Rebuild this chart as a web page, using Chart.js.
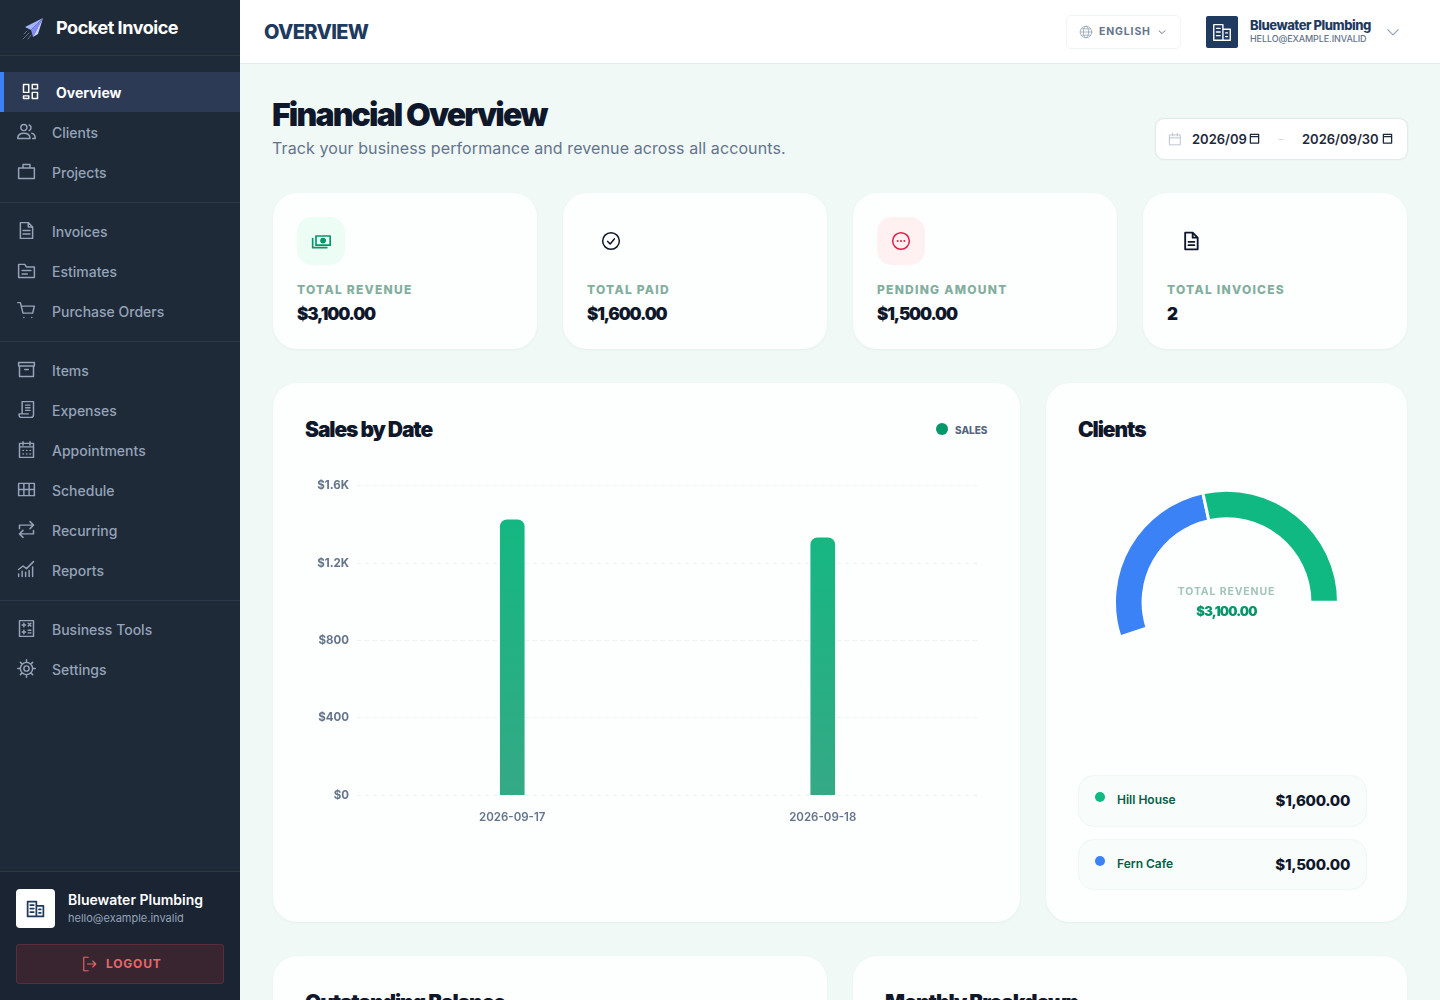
<!DOCTYPE html>
<html>
<head>
<meta charset="utf-8">
<title>Pocket Invoice</title>
<script src="https://cdn.jsdelivr.net/npm/chart.js@4/dist/chart.umd.js"></script>
<style>
* { box-sizing: border-box; margin: 0; padding: 0; }
html, body { width: 1440px; height: 1000px; overflow: hidden; background: #f0f9f6; font-family: Inter, sans-serif; }
svg { display: block; fill: none; stroke: currentColor; stroke-width: 1.5; stroke-linecap: round; stroke-linejoin: round; }
.abs { position: absolute; white-space: nowrap; }

#sidebar { position: absolute; left: 0; top: 0; width: 240px; height: 1000px; background: #1f2a38; }
#brand { position: absolute; left: 56px; top: 17px; font-size: 18px; line-height: 22px; font-weight: 700; color: #fff; letter-spacing: -0.45px; }
.sep { position: absolute; left: 0; width: 240px; height: 1px; background: #2c3849; }
.nav { position: absolute; left: 0; width: 240px; height: 40px; color: #94a3b8; font-size: 14px; font-weight: 500; line-height: 41px; }
.nav span { position: absolute; left: 52px; top: 0; }
.nav svg { position: absolute; left: 16px; top: 9px; width: 21px; height: 21px; stroke-width: 1.7; }
.nav.active { background: #2d3a55; color: #fff; font-weight: 700; border-left: 4px solid #3b82f6; }
#foot { position: absolute; left: 0; top: 871px; width: 240px; height: 129px; background: #1a2433; border-top: 1px solid #2c3849; }
#footlogo { position: absolute; left: 16px; top: 17px; width: 39px; height: 39px; background: #fff; border-radius: 4px; color: #1e3a5f; padding: 9px; }
#logout { position: absolute; left: 16px; top: 72px; width: 208px; height: 40px; background: #38252f; border: 1px solid #5a2e38; border-radius: 3px; color: #e5686c; font-size: 12px; font-weight: 700; letter-spacing: 0.8px; line-height: 38px; }

#topbar { position: absolute; left: 240px; top: 0; width: 1200px; height: 64px; background: #fff; border-bottom: 1px solid #e4ebe9; }
.card { position: absolute; background: #fdfefe; border-radius: 24px; box-shadow: 0 1px 3px rgba(20,80,60,0.05); }
.stat-label { font-size: 12px; font-weight: 800; letter-spacing: 1.25px; color: #83ae9e; }
.stat-value { font-size: 17px; font-weight: 900; letter-spacing: -1.15px; color: #0f172a; }
.title { font-size: 21px; font-weight: 900; letter-spacing: -1.1px; color: #0f172a; }
.pill { position: absolute; left: 1078px; width: 289px; background: #f8fcfb; border: 1px solid #eef8f5; border-radius: 16px; }
</style>
</head>
<body>
<div id="sidebar">
  <svg class="abs" style="left:20px;top:16px;width:25px;height:25px;stroke:none" viewBox="0 0 25 25">
    <path d="M23 2 L5 11 L11 14 Z" fill="#a5b4fc"/>
    <path d="M23 2 L11 14 L13 21 Z" fill="#818cf8"/>
    <path d="M23 2 L13 21 L18 18 Z" fill="#c7d2fe"/>
    <path d="M9 17 L3 23 M7 15 L4 18 M11 19 L8 23" stroke="#64748b" stroke-width="1" fill="none"/>
  </svg>
  <div id="brand">Pocket Invoice</div>
  <div class="sep" style="top:55px"></div>
  <div class="sep" style="top:202px"></div>
  <div class="sep" style="top:341px"></div>
  <div class="sep" style="top:600px"></div>
  <div id="nav"></div>
  <div id="foot">
    <div id="footlogo"><svg viewBox="0 0 24 24" width="21" height="21" style="stroke-width:2"><path d="M3 4h10v17H3zM13 9h8v12h-8zM6 8h4M6 12h4M6 16h4M16 13h2M16 17h2"/></svg></div>
    <div class="abs" style="left:68px;top:19px;font-size:14px;font-weight:600;color:#fff">Bluewater Plumbing</div>
    <div class="abs" style="left:68px;top:39px;font-size:11px;color:#94a3b8">hello@example.invalid</div>
    <div id="logout">
      <svg class="abs" style="left:63px;top:10px;width:18px;height:18px" viewBox="0 0 24 24"><path d="M11 3H5v18h6M10 12h11M17 8l4 4-4 4"/></svg>
      <span class="abs" style="left:89px;top:0">LOGOUT</span>
    </div>
  </div>
</div>

<div id="topbar">
  <div class="abs" style="left:24px;top:19px;font-size:20px;line-height:27px;font-weight:800;color:#1e3a5f;letter-spacing:-0.65px">OVERVIEW</div>
  <div class="abs" style="left:826px;top:15px;width:115px;height:34px;border:1px solid #f1f5f4;border-radius:5px;background:#fff"></div>
  <svg class="abs" style="left:839px;top:25px;width:14px;height:14px;color:#94a3b8;stroke-width:1.3" viewBox="0 0 24 24"><circle cx="12" cy="12" r="10"/><ellipse cx="12" cy="12" rx="4.5" ry="10"/><path d="M2 12h20M4 6.5h16M4 17.5h16"/></svg>
  <div class="abs" style="left:859px;top:25px;font-size:10.5px;line-height:14px;font-weight:700;letter-spacing:0.85px;color:#64748b">ENGLISH</div>
  <svg class="abs" style="left:917px;top:27px;width:10px;height:10px;color:#64748b;stroke-width:2.4" viewBox="0 0 24 24"><path d="M5 9l7 7 7-7"/></svg>
  <div class="abs" style="left:966px;top:16px;width:32px;height:32px;background:#1e3a5f;border-radius:2px;color:#fff;padding:5px"><svg viewBox="0 0 24 24" width="22" height="22"><path d="M3 4h10v17H3zM13 9h8v12h-8zM6 8h4M6 12h4M6 16h4M16 13h2M16 17h2"/></svg></div>
  <div class="abs" style="left:1010px;top:17px;font-size:13px;line-height:16px;font-weight:800;color:#1e3a5f;letter-spacing:-0.45px">Bluewater Plumbing</div>
  <div class="abs" style="left:1010px;top:32px;font-size:9px;line-height:13px;font-weight:500;letter-spacing:-0.1px;color:#64748b">HELLO@EXAMPLE.INVALID</div>
  <svg class="abs" style="left:1146px;top:25px;width:14px;height:14px;color:#94a3b8;stroke-width:2" viewBox="0 0 24 24"><path d="M3 8l9 9 9-9"/></svg>
</div>

<div class="abs" style="left:272px;top:95px;font-size:32px;line-height:40px;font-weight:900;letter-spacing:-1.85px;color:#0f172a">Financial Overview</div>
<div class="abs" style="left:272px;top:137px;font-size:16px;line-height:22px;letter-spacing:0.1px;color:#64748b">Track your business performance and revenue across all accounts.</div>

<div class="abs" style="left:1156px;top:119px;width:251px;height:40px;background:#fff;border-radius:8px;box-shadow:0 0 2px rgba(30,60,60,0.25)"></div>
<svg class="abs" style="left:1168px;top:132px;width:14px;height:14px;color:#b3bccb" viewBox="0 0 24 24"><path d="M3 5h18v17H3zM3 10h18M8 2v5M16 2v5"/></svg>
<div class="abs" style="left:1192px;top:131px;font-size:13px;line-height:16px;font-weight:600;color:#1e293b">2026/09</div>
<svg class="abs" style="left:1249px;top:133px;width:11px;height:11px;color:#1e293b;stroke-width:2.8" viewBox="0 0 24 24"><path d="M3 3h18v19H3zM3 8h18"/></svg>
<div class="abs" style="left:1278px;top:131px;font-size:13px;line-height:16px;color:#cbd5e1">-</div>
<div class="abs" style="left:1302px;top:131px;font-size:13px;line-height:16px;font-weight:600;color:#1e293b">2026/09/30</div>
<svg class="abs" style="left:1382px;top:133px;width:11px;height:11px;color:#1e293b;stroke-width:2.8" viewBox="0 0 24 24"><path d="M3 3h18v19H3zM3 8h18"/></svg>

<!-- stat cards -->
<div class="card" style="left:273px;top:193px;width:264px;height:156px"></div>
<div class="card" style="left:563px;top:193px;width:264px;height:156px"></div>
<div class="card" style="left:853px;top:193px;width:264px;height:156px"></div>
<div class="card" style="left:1143px;top:193px;width:264px;height:156px"></div>

<div class="abs" style="left:297px;top:217px;width:48px;height:48px;border-radius:15px;background:#ecfdf5"></div>
<svg class="abs" style="left:311px;top:231px;width:20px;height:20px;color:#059669;stroke-width:2" viewBox="0 0 24 24"><path d="M6 6h17v11H6z"/><circle cx="14.5" cy="11.5" r="2.5" fill="currentColor"/><path d="M2 9v11h17"/></svg>
<svg class="abs" style="left:601px;top:231px;width:20px;height:20px;color:#0f172a;stroke-width:1.8" viewBox="0 0 24 24"><circle cx="12" cy="12" r="10"/><path d="M8 12.5l3 3 5-6"/></svg>
<div class="abs" style="left:877px;top:217px;width:48px;height:48px;border-radius:15px;background:#fff0f2"></div>
<svg class="abs" style="left:891px;top:231px;width:20px;height:20px;color:#e11d48;stroke-width:1.8" viewBox="0 0 24 24"><circle cx="12" cy="12" r="10"/><path d="M8 12h.01M12 12h.01M16 12h.01" stroke-width="2.4"/></svg>
<svg class="abs" style="left:1181px;top:231px;width:20px;height:20px;color:#0f172a;stroke-width:2.2" viewBox="0 0 24 24"><path d="M5 2h9l6 6v14H5zM14 2v6h6M9 13h7M9 17h7"/></svg>

<div class="abs stat-label" style="left:297px;top:282px">TOTAL REVENUE</div>
<div class="abs stat-value" style="left:297px;top:304px">$3,100.00</div>
<div class="abs stat-label" style="left:587px;top:282px">TOTAL PAID</div>
<div class="abs stat-value" style="left:587px;top:304px">$1,600.00</div>
<div class="abs stat-label" style="left:877px;top:282px">PENDING AMOUNT</div>
<div class="abs stat-value" style="left:877px;top:304px">$1,500.00</div>
<div class="abs stat-label" style="left:1167px;top:282px">TOTAL INVOICES</div>
<div class="abs stat-value" style="left:1167px;top:304px">2</div>

<!-- sales card -->
<div class="card" style="left:273px;top:383px;width:747px;height:539px"></div>
<div class="abs title" style="left:305px;top:417px">Sales by Date</div>
<div class="abs" style="left:936px;top:423px;width:12px;height:12px;border-radius:50%;background:#059669"></div>
<div class="abs" style="left:955px;top:423px;font-size:10px;line-height:14px;font-weight:800;color:#56657d">SALES</div>
<div class="abs" style="left:305px;top:471px;width:683px;height:360px"><canvas id="salesChart" width="683" height="360"></canvas></div>

<!-- clients card -->
<div class="card" style="left:1046px;top:383px;width:361px;height:539px"></div>
<div class="abs title" style="left:1078px;top:417px">Clients</div>
<div class="abs" style="left:1113px;top:450px;width:227px;height:227px"><canvas id="clientsChart" width="227" height="227"></canvas></div>
<div class="abs" style="left:1106px;width:241px;top:585px;text-align:center;font-size:10.5px;line-height:14px;font-weight:700;letter-spacing:0.85px;color:#a3c4b8">TOTAL REVENUE</div>
<div class="abs" style="left:1106px;width:241px;top:603px;text-align:center;font-size:13px;line-height:16px;font-weight:900;letter-spacing:-0.8px;color:#059669">$3,100.00</div>

<div class="pill" style="top:775px;height:52px"></div>
<div class="abs" style="left:1095px;top:792px;width:10px;height:10px;border-radius:50%;background:#10b981"></div>
<div class="abs" style="left:1117px;top:792px;font-size:12px;line-height:16px;font-weight:600;color:#065f46">Hill House</div>
<div class="abs" style="right:90px;top:791px;font-size:15px;line-height:19px;font-weight:800;letter-spacing:-0.3px;color:#0f172a">$1,600.00</div>
<div class="pill" style="top:839px;height:51px"></div>
<div class="abs" style="left:1095px;top:856px;width:10px;height:10px;border-radius:50%;background:#3b82f6"></div>
<div class="abs" style="left:1117px;top:856px;font-size:12px;line-height:16px;font-weight:600;color:#065f46">Fern Cafe</div>
<div class="abs" style="right:90px;top:855px;font-size:15px;line-height:19px;font-weight:800;letter-spacing:-0.3px;color:#0f172a">$1,500.00</div>

<!-- next row, cut off by the window -->
<div class="card" style="left:273px;top:956px;width:554px;height:200px"></div>
<div class="card" style="left:853px;top:956px;width:554px;height:200px"></div>
<div class="abs title" style="left:305px;top:990px">Outstanding Balance</div>
<div class="abs title" style="left:885px;top:990px">Monthly Breakdown</div>

<script>
// chart data
const salesDates = ['2026-09-17', '2026-09-18'];
const salesValues = [1425, 1332];
const salesTicks = [0, 400, 800, 1200, 1600];
const salesTickLabels = ['$0', '$400', '$800', '$1.2K', '$1.6K'];
const clientNames = ['Fern Cafe', 'Hill House'];
const clientValues = [1500, 1600];
const clientColors = ['#3b82f6', '#10b981'];

// sidebar
const icons = {
  overview: 'M4 4h6v9H4zM14 4h6v5h-6zM4 17h6v3H4zM14 13h6v7h-6z',
  clients: 'M2 20c0-4 3-6 7-6s7 2 7 6zM9 11a3.5 3.5 0 1 0 0-7 3.5 3.5 0 0 0 0 7zM15 4.5a3.5 3.5 0 0 1 0 6.5M18 14c2.5.6 4 2.6 4 6h-3',
  projects: 'M3 8h18v12H3zM8 8V4h8v4',
  invoices: 'M5 3h9l5 5v13H5zM14 3v5h5M8 12h8M8 16h8',
  estimates: 'M3 5h7l2 3h9v12H3zM7 12h10M7 16h6',
  orders: 'M2 3h3l3 12h11l2-8H6M9 20h.01M18 20h.01',
  items: 'M3 4h18v4H3zM4 8h16v12H4zM10 12h4',
  expenses: 'M7 3h13v15a3 3 0 0 1-3 3H6a2.5 2.5 0 0 1-2.5-2.5V17H14M7 17V3M11 7h5M11 10h5M11 13h5',
  appointments: 'M4 5h16v16H4zM4 9h16M8 3v4M16 3v4M8 13h.5M12 13h.5M16 13h.5M8 17h.5M12 17h.5M16 17h.5',
  schedule: 'M3 5h18v14H3zM3 12h18M9 5v14M15 5v14',
  recurring: 'M4 11V7h16M16 3l4 4-4 4M20 13v4H4M8 21l-4-4 4-4',
  reports: 'M3 20v-3M7 20v-6M11 20v-5M15 20v-7M19 20V9M3 12l5-4 4 3 8-8',
  tools: 'M4 3h16v18H4zM7 8h4M9 6v4M14 6l3 3M17 6l-3 3M7 16h4M9 14v4M14 14h3M14 17h3',
  settings: 'M12 5a7 7 0 1 0 0 14 7 7 0 0 0 0-14zM12 9a3 3 0 1 0 0 6 3 3 0 0 0 0-6zM12 2v3M12 19v3M2 12h3M19 12h3M5 5l2 2M17 17l2 2M19 5l-2 2M7 17l-2 2'
};
const navItems = [
  ['Overview', 'overview', 72], ['Clients', 'clients', 112], ['Projects', 'projects', 152],
  ['Invoices', 'invoices', 211], ['Estimates', 'estimates', 251], ['Purchase Orders', 'orders', 291],
  ['Items', 'items', 350], ['Expenses', 'expenses', 390], ['Appointments', 'appointments', 430],
  ['Schedule', 'schedule', 470], ['Recurring', 'recurring', 510], ['Reports', 'reports', 550],
  ['Business Tools', 'tools', 609], ['Settings', 'settings', 649]
];
document.getElementById('nav').innerHTML = navItems.map(function (n, i) {
  return '<div class="nav' + (i === 0 ? ' active' : '') + '" style="top:' + n[2] + 'px"><svg viewBox="0 0 24 24"><path d="' + icons[n[1]] + '"/></svg><span>' + n[0] + '</span></div>';
}).join('');

Chart.defaults.font.family = 'Inter, sans-serif';
Chart.defaults.animation = false;

new Chart(document.getElementById('salesChart'), {
  type: 'bar',
  data: {
    labels: salesDates,
    datasets: [{
      label: 'Sales',
      data: salesValues,
      backgroundColor: function (ctx) {
        const area = ctx.chart.chartArea;
        if (!area) return '#10b981';
        const g = ctx.chart.ctx.createLinearGradient(0, area.top, 0, area.bottom);
        g.addColorStop(0, '#10b981');
        g.addColorStop(1, '#35a985');
        return g;
      },
      barThickness: 24,
      borderRadius: { topLeft: 7, topRight: 7 },
      borderSkipped: false
    }]
  },
  options: {
    responsive: false,
    maintainAspectRatio: false,
    layout: { padding: { top: 0, right: 10, bottom: 0, left: 0 } },
    plugins: { legend: { display: false }, tooltip: { enabled: false } },
    scales: {
      x: {
        grid: { display: false },
        border: { display: false },
        ticks: { color: '#64748b', font: { size: 11.5, weight: 600 }, padding: 7 }
      },
      y: {
        min: 0,
        max: 1600,
        afterBuildTicks: function (axis) {
          axis.ticks = salesTicks.map(function (v) { return { value: v }; });
        },
        afterFit: function (axis) { axis.width = 52; },
        grid: { color: '#eef2f1', drawTicks: false },
        border: { display: false, dash: [4, 4] },
        ticks: {
          color: '#64748b',
          font: { size: 11.5, weight: 700 },
          padding: 8,
          callback: function (v) { return salesTickLabels[salesTicks.indexOf(v)]; }
        }
      }
    }
  }
});

new Chart(document.getElementById('clientsChart'), {
  type: 'doughnut',
  data: {
    labels: clientNames,
    datasets: [{
      data: clientValues,
      backgroundColor: clientColors,
      borderColor: '#fdfefe',
      borderWidth: 3,
      borderRadius: 0
    }]
  },
  options: {
    responsive: false,
    maintainAspectRatio: false,
    rotation: -108,
    circumference: 198,
    cutout: '74.5%',
    plugins: { legend: { display: false }, tooltip: { enabled: false } }
  }
});
</script>
</body>
</html>
